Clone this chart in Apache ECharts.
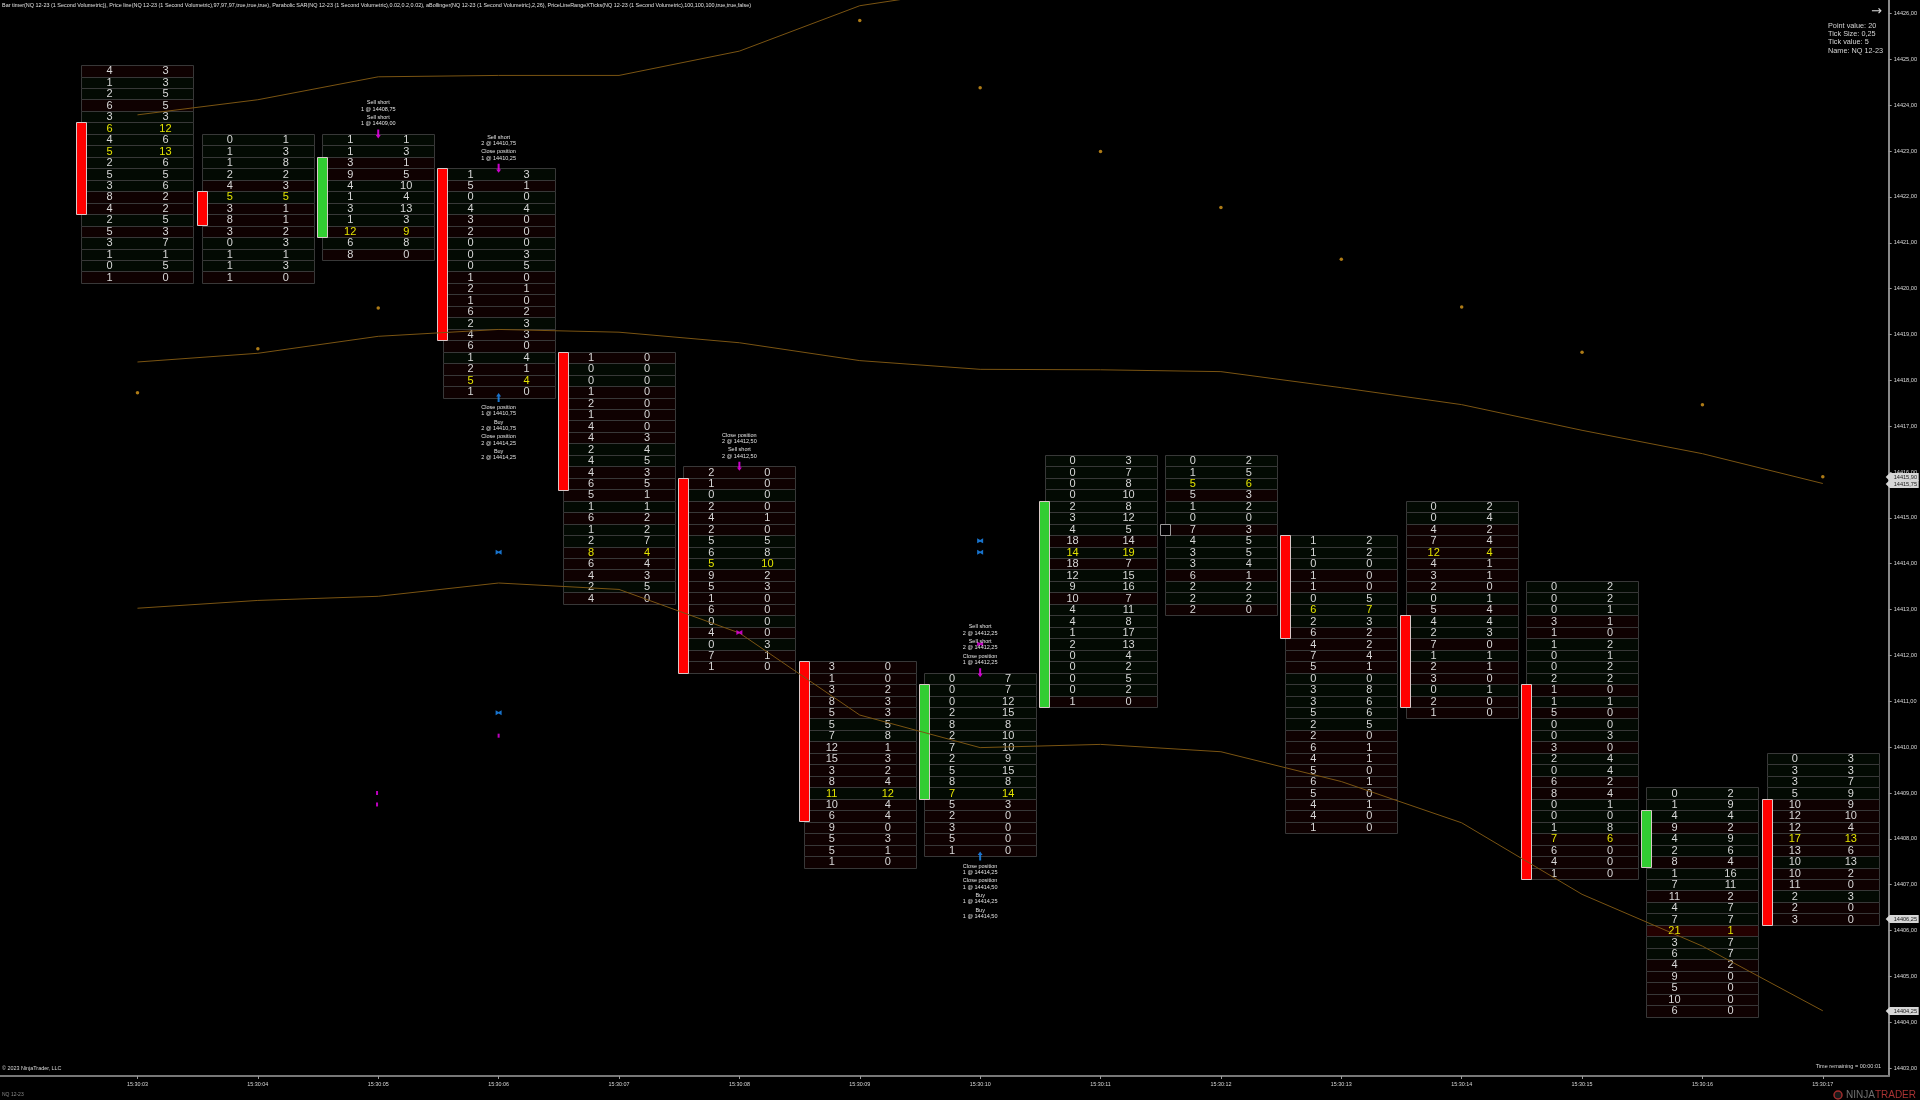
<!DOCTYPE html>
<html>
<head>
<meta charset="utf-8">
<style>html,body{margin:0;padding:0;background:#000}#c{width:1920px;height:1100px}</style>
<script src="https://cdn.jsdelivr.net/npm/echarts@6/dist/echarts.min.js"></script>
</head>
<body>
<div id="c"></div>
<script>
const barSeconds = [3,4,5,6,7,8,9,10,11,12,13,14,15,16,17];
const priceTicks = [14403,14404,14405,14406,14407,14408,14409,14410,14411,14412,14413,14414,14415,14416,14417,14418,14419,14420,14421,14422,14423,14424,14425,14426];
const barHighs  = [14424.75,14423.25,14423.25,14422.5,14418.5,14416,14411.75,14411.5,14416.25,14416.25,14414.5,14415.25,14413.5,14409,14409.75];
const barOpens  = [14423.5,14422,14421.25,14422.5,14418.5,14415.75,14411.75,14409,14411,14414.75,14414.5,14412.75,14411.25,14407.5,14408.75];
const barCloses = [14421.75,14421.5,14422.75,14419,14415.75,14411.75,14408.5,14411.25,14415.25,14414.75,14412.5,14411,14407.25,14408.5,14406.25];
const bidColumns = [
  [4,1,2,6,3,6,4,5,2,5,3,8,4,2,5,3,1,0,1],
  [0,1,1,2,4,5,3,8,3,0,1,1,1],
  [1,1,3,9,4,1,3,1,12,6,8],
  [1,5,0,4,3,2,0,0,0,1,2,1,6,2,4,6,1,2,5,1],
  [1,0,0,1,2,1,4,4,2,4,4,6,5,1,6,1,2,8,6,4,2,4],
  [2,1,0,2,4,2,5,6,5,9,5,1,6,0,4,0,7,1],
  [3,1,3,8,5,5,7,12,15,3,8,11,10,6,9,5,5,1],
  [0,0,0,2,8,2,7,2,5,8,7,5,2,3,5,1],
  [0,0,0,0,2,3,4,18,14,18,12,9,10,4,4,1,2,0,0,0,0,1],
  [0,1,5,5,1,0,7,4,3,3,6,2,2,2],
  [1,1,0,1,1,0,6,2,6,4,7,5,0,3,3,5,2,2,6,4,5,6,5,4,4,1],
  [0,0,4,7,12,4,3,2,0,5,4,2,7,1,2,3,0,2,1],
  [0,0,0,3,1,1,0,0,2,1,1,5,0,0,3,2,0,6,8,0,0,1,7,6,4,1],
  [0,1,4,9,4,2,8,1,7,11,4,7,21,3,6,4,9,5,10,6],
  [0,3,3,5,10,12,12,17,13,10,10,11,2,2,3]
];
const askColumns = [
  [3,3,5,5,3,12,6,13,6,5,6,2,2,5,3,7,1,5,0],
  [1,3,8,2,3,5,1,1,2,3,1,3,0],
  [1,3,1,5,10,4,13,3,9,8,0],
  [3,1,0,4,0,0,0,3,5,0,1,0,2,3,3,0,4,1,4,0],
  [0,0,0,0,0,0,0,3,4,5,3,5,1,1,2,2,7,4,4,3,5,0],
  [0,0,0,0,1,0,5,8,10,2,3,0,0,0,0,3,1,0],
  [0,0,2,3,3,5,8,1,3,2,4,12,4,4,0,3,1,0],
  [7,7,12,15,8,10,10,9,15,8,14,3,0,0,0,0],
  [3,7,8,10,8,12,5,14,19,7,15,16,7,11,8,17,13,4,2,5,2,0],
  [2,5,6,3,2,0,3,5,5,4,1,2,2,0],
  [2,2,0,0,0,5,7,3,2,2,4,1,0,8,6,6,5,0,1,1,0,1,0,1,0,0],
  [2,4,2,4,4,1,1,0,1,4,4,3,0,1,1,0,1,0,0],
  [2,2,1,1,0,2,1,2,2,0,1,0,0,3,0,4,4,2,4,1,0,8,6,0,0,0],
  [2,9,4,2,9,6,4,16,11,2,7,7,1,7,7,2,0,0,0,0],
  [3,3,7,9,9,10,4,13,6,13,2,0,3,0,0]
];
const upperBand  = [14423.79,14424.12,14424.62,14424.65,14424.65,14425.18,14426.17,14426.57,null,null,null,null,null,null,null];
const middleBand = [14418.40,14418.59,14418.96,14419.11,14419.05,14418.82,14418.43,14418.24,14418.23,14418.19,14417.84,14417.47,14416.91,14416.40,14415.75];
const lowerBand  = [14413.03,14413.20,14413.29,14413.58,14413.44,14412.49,14410.70,14409.99,14410.06,14409.90,14409.25,14408.35,14406.79,14405.66,14404.25];
const sarDots    = [14417.73,14418.69,14419.58,null,null,null,14425.85,14424.38,14422.99,14421.77,14420.64,14419.60,14418.61,14417.47,14415.90];
const priceTags  = [14415.90,14415.75,14406.25,14404.25];
const sellArrowSeconds = [5,6,8,10];
const buyArrowSeconds  = [6,10];
const buyFills  = [[6,14414.25],[10,14414.5],[10,14414.25],[6,14410.75]];
const sellFills = [[8,14412.5],[10,14412.25]];
const smallSellFills = [[6,14410.25],[4.99,14409],[4.99,14408.75]];
const tradeNotes = [
  {sec:5, side:1, notes:['Sell short\n1 @ 14409,00','Sell short\n1 @ 14408,75']},
  {sec:6, side:1, notes:['Close position\n1 @ 14410,25','Sell short\n2 @ 14410,75']},
  {sec:6, side:-1,notes:['Close position\n1 @ 14410,75','Buy\n2 @ 14410,75','Close position\n2 @ 14414,25','Buy\n2 @ 14414,25']},
  {sec:8, side:1, notes:['Sell short\n2 @ 14412,50','Close position\n2 @ 14412,50']},
  {sec:10,side:1, notes:['Close position\n1 @ 14412,25','Sell short\n2 @ 14412,25','Sell short\n2 @ 14412,25']},
  {sec:10,side:-1,notes:['Close position\n1 @ 14414,25','Close position\n1 @ 14414,50','Buy\n1 @ 14414,25','Buy\n1 @ 14414,50']}
];
const headerText = 'Bar timer(NQ 12-23 (1 Second Volumetric)), Price line(NQ 12-23 (1 Second Volumetric),97,97,97,true,true,true), Parabolic SAR(NQ 12-23 (1 Second Volumetric),0.02,0.2,0.02), aBollinger(NQ 12-23 (1 Second Volumetric),2,26), PriceLineRangeXTicks(NQ 12-23 (1 Second Volumetric),100,100,100,true,true,false)';
const instrumentText = 'Point value: 20\nTick Size: 0,25\nTick value: 5\nName: NQ 12-23';

const TICK = 0.25, BOX_HALF = 0.465, BODY_HALF = 0.0436, FONT = '"Liberation Sans", Arial, sans-serif';
const priceLabel = v => v.toFixed(2).replace('.', ',');
const secLabel = v => '15:30:' + String(v).padStart(2, '0');

// rows: [second, price, bid, ask, isPoc]
const rowData = [];
barSeconds.forEach((s, b) => {
  const bids = bidColumns[b], asks = askColumns[b];
  const maxTotal = Math.max(...bids.map((v, i) => v + asks[i]));
  bids.forEach((bid, i) => rowData.push([s, barHighs[b] - i * TICK, bid, asks[i], bid + asks[i] === maxTotal ? 1 : 0]));
});
const bodyData = barSeconds.map((s, b) => [s, barOpens[b], barCloses[b]]);

function renderRow(params, api) {
  const s = api.value(0), p = api.value(1), bid = api.value(2), ask = api.value(3), poc = api.value(4);
  const a = api.coord([s - BOX_HALF, p + TICK / 2]), c = api.coord([s + BOX_HALF, p - TICK / 2]);
  const x = Math.round(a[0]) + .5, y = Math.round(a[1]) + .5, w = Math.round(c[0]) - Math.round(a[0]), h = Math.round(c[1]) - Math.round(a[1]);
  const cy = (a[1] + c[1]) / 2, cx = (a[0] + c[0]) / 2, q = w / 4;
  const fill = bid > ask ? (bid - ask >= 15 ? '#240000' : '#0f0101') : '#030a03';
  const col = poc ? '#e4e400' : '#d8d8d8';
  const txt = (v, tx) => ({type:'text', style:{text:String(v), x:tx, y:cy + .5, align:'center', verticalAlign:'middle', fontSize:11, fontFamily:FONT, fill:col}});
  return {type:'group', children:[
    {type:'rect', shape:{x, y, width:w, height:h}, style:{fill, stroke:'#383838', lineWidth:1}},
    txt(bid, cx - q), txt(ask, cx + q)
  ]};
}
function renderBody(params, api) {
  const s = api.value(0), o = api.value(1), c = api.value(2);
  const top = Math.max(o, c) + TICK / 2, bot = Math.min(o, c) - TICK / 2, left = s - BOX_HALF;
  const a = api.coord([left - BODY_HALF, top]), d = api.coord([left + BODY_HALF, bot]);
  const fill = o === c ? '#000000' : (c > o ? '#32cd32' : '#ff0000');
  return {type:'rect', shape:{x:Math.round(a[0]) + .5, y:Math.round(a[1]) + .5, width:Math.round(d[0] - a[0]), height:Math.round(d[1] - a[1])},
    style:{fill, stroke: o === c ? '#9a9a9a' : '#d9c8c8', lineWidth:1}};
}
function renderNote(params, api) {
  const n = tradeNotes[params.dataIndex], b = barSeconds.indexOf(n.sec);
  const edge = n.side > 0 ? barHighs[b] + TICK / 2 : barHighs[b] - TICK * (bidColumns[b].length - .5);
  const pt = api.coord([n.sec, edge]);
  return {type:'group', children:n.notes.map((t, k) => ({type:'text', style:{
    text:t, x:pt[0], y:pt[1] + n.side * -(13.2 + k * 14.7), align:'center', verticalAlign:'middle', lineHeight:6.3,
    fontSize:5.5, fontFamily:FONT, fill:'#e0e0e0'}}))};
}
function renderTag(params, api) {
  const p = api.coord([api.value(0), api.value(1)]), x = p[0], y = Math.round(p[1]);
  return {type:'group', children:[
    {type:'polygon', shape:{points:[[x - 3, y],[x + 1, y - 4],[x + 30, y - 4],[x + 30, y + 4],[x + 1, y + 4]]}, style:{fill:'#d6d6d6'}},
    {type:'text', style:{text:priceLabel(api.value(1)), x:x + 5, y:y + .5, align:'left', verticalAlign:'middle', fontSize:5.6, fontFamily:FONT, fill:'#1a1a1a'}}
  ]};
}
const X_MAX = 17.547;
const downArrow = 'path://M3 0L7 0L7 10L10 10L5 16L0 10L3 10Z';
const upArrow   = 'path://M5 0L10 6L7 6L7 16L3 16L3 6L0 6Z';
const bowtie    = 'path://M0 0L5 2L10 0L10 6L5 4L0 6Z';

const sparse = arr => barSeconds.map((s, i) => [s, arr[i]]);
const bandLine = (arr, name) => ({type:'line', name, data:sparse(arr), showSymbol:false, z:5,
  lineStyle:{color:'#7a5412', width:1}, silent:true, connectNulls:false});
const marks = (data, symbol, size, color) => ({type:'scatter', data, symbol, symbolSize:size, z:8, itemStyle:{color}, silent:true});

const chart = echarts.init(document.getElementById('c'), null, {renderer:'canvas', width:1920, height:1100});
chart.setOption({
  backgroundColor:'#000000',
  animation:false,
  textStyle:{fontFamily:FONT},
  grid:{left:0, right:31, top:0, bottom:24, containLabel:false},
  xAxis:{type:'value', min:1.858, max:X_MAX, position:'bottom', splitLine:{show:false},
    axisLine:{onZero:false, lineStyle:{color:'#777777', width:2}},
    axisTick:{length:3, lineStyle:{color:'#999999'}, customValues:barSeconds},
    axisLabel:{customValues:barSeconds, formatter:secLabel, color:'#d8d8d8', fontSize:5.4, margin:6, fontFamily:FONT}},
  yAxis:{type:'value', min:14402.828, max:14426.295, position:'right', splitLine:{show:false},
    axisLine:{onZero:false, lineStyle:{color:'#8a8a8a', width:2}},
    axisTick:{length:3, lineStyle:{color:'#999999'}, customValues:priceTicks},
    axisLabel:{customValues:priceTicks, formatter:priceLabel, color:'#d8d8d8', fontSize:5.6, margin:5, fontFamily:FONT}},
  series:[
    {type:'custom', name:'cells', data:rowData, encode:{x:0, y:1}, renderItem:renderRow, z:2, silent:true},
    {type:'custom', name:'bodies', data:bodyData, encode:{x:0, y:1}, renderItem:renderBody, z:3, silent:true},
    bandLine(upperBand, 'upper'), bandLine(middleBand, 'middle'), bandLine(lowerBand, 'lower'),
    {type:'scatter', name:'sar', data:sparse(sarDots), symbol:'circle', symbolSize:3.5, z:6, itemStyle:{color:'#d99a1c'}, silent:true},
    marks(sellArrowSeconds.map(s => [s, barHighs[barSeconds.indexOf(s)] + TICK / 2]), downArrow, [5, 9], '#ff00ff'),
    marks(buyArrowSeconds.map(s => { const b = barSeconds.indexOf(s); return [s, barHighs[b] - TICK * (bidColumns[b].length - .5)]; }), upArrow, [5, 9], '#1e90ff'),
    marks(buyFills, bowtie, [6, 5], '#1e90ff'),
    marks(sellFills, bowtie, [6, 5], '#ee00ee'),
    marks(smallSellFills, 'rect', [2, 4], '#ee00ee'),
    {type:'custom', name:'notes', data:tradeNotes.map((n, i) => [n.sec, i]), encode:{x:0}, renderItem:renderNote, z:9, silent:true},
    {type:'custom', name:'tags', data:priceTags.map(p => [X_MAX, p]), encode:{x:0, y:1}, renderItem:renderTag, z:10, silent:true, clip:false}
  ],
  graphic:[
    {type:'text', x:2, y:3, silent:true, style:{text:headerText, fontSize:5.45, fontFamily:FONT, fill:'#e0e0e0'}},
    {type:'text', x:1828, y:21.5, silent:true, style:{text:instrumentText, fontSize:7.3, lineHeight:8.3, fontFamily:FONT, fill:'#d4d4d4'}},
    {type:'text', x:1871, y:5, silent:true, style:{text:'→', fontSize:13, fontFamily:'"DejaVu Sans"', fill:'#d8d8d8'}},
    {type:'text', x:2, y:1066, silent:true, style:{text:'© 2023 NinjaTrader, LLC', fontSize:5.4, fontFamily:FONT, fill:'#d8d8d8'}},
    {type:'text', x:1815.7, y:1063, silent:true, style:{text:'Time remaining = 00:00:01', fontSize:5.5, fontFamily:FONT, fill:'#d8d8d8'}},
    {type:'text', x:2, y:1092, silent:true, style:{text:'NQ 12-23', fontSize:5, fontFamily:FONT, fill:'#8a8a8a'}},
    {type:'circle', silent:true, shape:{cx:1838, cy:1095, r:4}, style:{fill:'#1a1a1a', stroke:'#a02c2c', lineWidth:1.5}},
    {type:'text', x:1846, y:1090, silent:true, style:{text:'{a|NINJA}{b|TRADER}', rich:{a:{fill:'#707070', fontSize:10, fontFamily:FONT}, b:{fill:'#a83232', fontSize:10, fontFamily:FONT}}}}
  ]
});
</script>
</body>
</html>
